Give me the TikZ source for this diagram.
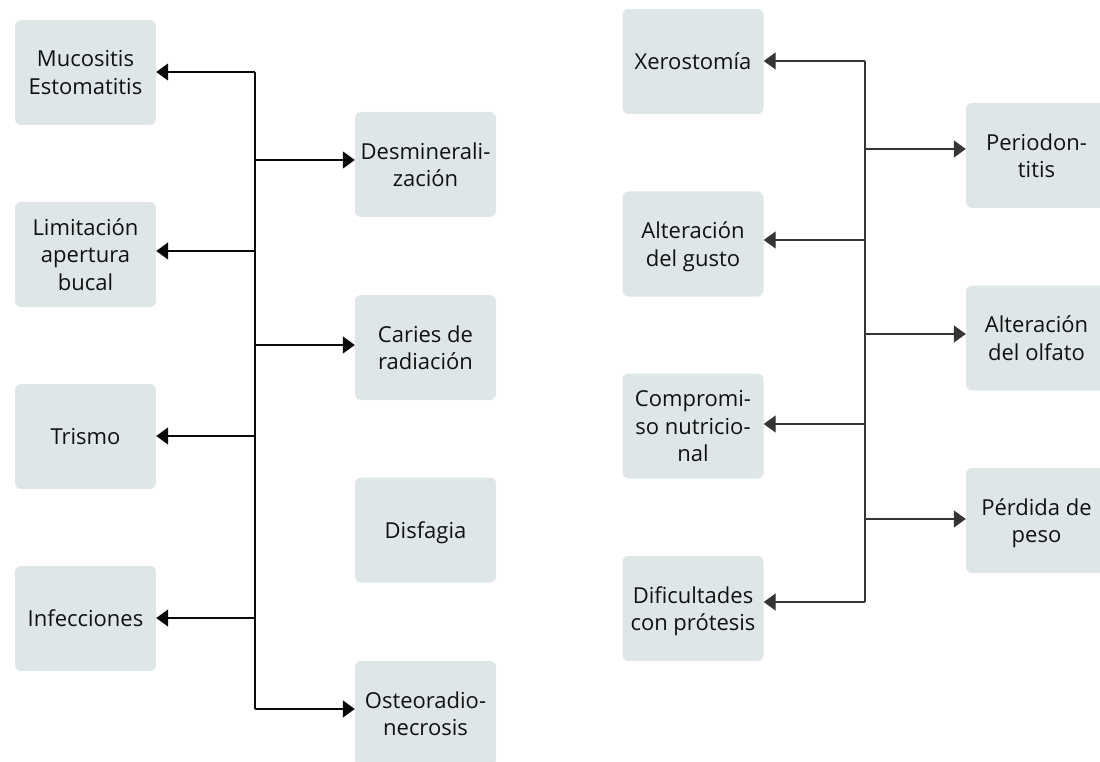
\documentclass[tikz,border=0pt]{standalone}
\usepackage{fontspec}
\setmainfont{Open Sans}
\usetikzlibrary{arrows.meta}
\definecolor{boxfill}{HTML}{DFE6E7}
\definecolor{lineL}{HTML}{0A0A0A}
\definecolor{lineR}{HTML}{353535}
\definecolor{txt}{HTML}{111111}
\begin{document}
\begin{tikzpicture}[x=1pt,y=-1pt,
  % text depth below zero drops the lines a little inside the box
  box/.style={fill=boxfill, rounded corners=6pt, minimum width=141pt,
    minimum height=105pt, inner sep=0pt, align=center, text=txt,
    text depth=-3.5pt, font=\fontsize{22}{27.5}\selectfont},
  link/.style={line width=1.4pt},
  arr/.style={link, -{Triangle[length=12pt,width=17pt]}}]
\useasboundingbox (0,0) rectangle (1100,762);
\clip (0,0) rectangle (1100,762);

% ---- left diagram: boxes ----
\node[box] (mucos) at (85.5,72.5)  {Mucositis\\Estomatitis};
\node[box] (limit) at (85.5,254.5) {Limitación\\apertura\\bucal};
\node[box] (trism) at (85.5,436.5) {Trismo};
\node[box] (infec) at (85.5,618.5) {Infecciones};
\node[box] (desmi) at (425.5,164.5) {Desminerali-\\zación};
\node[box] (carie) at (425.5,347.5) {Caries de\\radiación};
\node[box] (disfa) at (425.5,530)   {Disfagia};
\node[box] (osteo) at (425.5,713.5) {Osteoradio-\\necrosis};

% ---- left diagram: trunk and branches ----
\coordinate (jl1) at (255,72);
\coordinate (jl2) at (255,251);
\coordinate (jl3) at (255,436);
\coordinate (jl4) at (255,618);
\coordinate (jr1) at (255,160);
\coordinate (jr2) at (255,345);
\coordinate (jr3) at (255,709);
\begin{scope}[draw=lineL, color=lineL]
  \draw[link] (jl1) -- (jr3);
  \draw[arr] (jl1) -- (mucos.east |- jl1);
  \draw[arr] (jl2) -- (limit.east |- jl2);
  \draw[arr] (jl3) -- (trism.east |- jl3);
  \draw[arr] (jl4) -- (infec.east |- jl4);
  \draw[arr] (jr1) -- (desmi.west |- jr1);
  \draw[arr] (jr2) -- (carie.west |- jr2);
  \draw[arr] (jr3) -- (osteo.west |- jr3);
\end{scope}

% ---- right diagram: boxes ----
\node[box] (xeros) at (693,61.5)  {Xerostomía};
\node[box] (gusto) at (693,244)   {Alteración\\del gusto};
\node[box] (nutri) at (693,426)   {Compromi-\\so nutricio-\\nal};
\node[box] (prote) at (693,608.5) {Dificultades\\con prótesis};
\node[box] (perio) at (1036.5,155.5) {Periodon-\\titis};
\node[box] (olfat) at (1036.5,338)   {Alteración\\del olfato};
\node[box] (peso)  at (1036.5,520.5) {Pérdida de\\peso};

% ---- right diagram: trunk and branches ----
\coordinate (kl1) at (865,61);
\coordinate (kl2) at (865,240);
\coordinate (kl3) at (865,424);
\coordinate (kl4) at (865,602);
\coordinate (kr1) at (865,149);
\coordinate (kr2) at (865,334);
\coordinate (kr3) at (865,519);
\begin{scope}[draw=lineR, color=lineR]
  \draw[link] (kl1) -- (kl4);
  \draw[arr] (kl1) -- (xeros.east |- kl1);
  \draw[arr] (kl2) -- (gusto.east |- kl2);
  \draw[arr] (kl3) -- (nutri.east |- kl3);
  \draw[arr] (kl4) -- (prote.east |- kl4);
  \draw[arr] (kr1) -- (perio.west |- kr1);
  \draw[arr] (kr2) -- (olfat.west |- kr2);
  \draw[arr] (kr3) -- (peso.west |- kr3);
\end{scope}
\end{tikzpicture}
\end{document}
